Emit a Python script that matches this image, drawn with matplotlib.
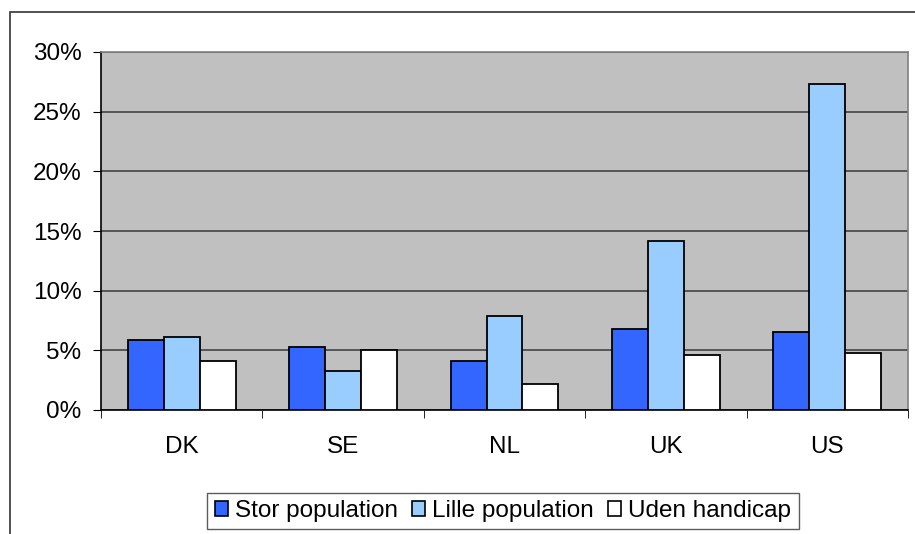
import numpy as np
import matplotlib.pyplot as plt
from matplotlib.patches import Patch, Rectangle
from matplotlib.ticker import FixedLocator, FuncFormatter

plt.rcParams['font.family'] = ['Liberation Sans', 'DejaVu Sans']

# Data (percent).
countries = ['DK', 'SE', 'NL', 'UK', 'US']
stor = [5.9, 5.3, 4.1, 6.8, 6.5]
lille = [6.1, 3.3, 7.9, 14.2, 27.3]
uden = [4.1, 5.0, 2.2, 4.6, 4.8]
series_names = ['Stor population', 'Lille population', 'Uden handicap']
colors = ['#3366FF', '#99CCFF', '#FFFFFF']

fs = 17.5

fig = plt.figure(figsize=(9.15, 5.34), dpi=100)
ax = fig.add_axes([101/915, 1-410/534, (908-101)/915, (410-52)/534])
ax.set_facecolor('#C0C0C0')

# Outer chart frame (only left and top visible in the reference).
fig.patches.append(Rectangle((10/915, -0.2), 1.2, (534-12)/534 + 0.2, transform=fig.transFigure,
                             fill=False, edgecolor='#333333', linewidth=1.2, zorder=0))

x = np.arange(len(countries))
w = 0.223
for i, (vals, c) in enumerate(zip([stor, lille, uden], colors)):
    ax.bar(x + (i-1)*w, vals, width=w, color=c, edgecolor='black', linewidth=1.3, zorder=3)

ax.set_xlim(-0.5, 4.5)
ax.set_ylim(0, 30)
ax.set_yticks(np.arange(0, 31, 5))
ax.yaxis.set_major_formatter(FuncFormatter(lambda v, p: '%d%%' % v))
ax.grid(axis='y', color='#444444', linewidth=1.2, zorder=0)
ax.set_axisbelow(True)

# category labels at centres, ticks at boundaries
ax.set_xticks(x)
ax.set_xticklabels(countries)
ax.tick_params(axis='x', which='major', length=0, pad=19, labelsize=fs)
ax.xaxis.set_minor_locator(FixedLocator(np.arange(-0.5, 5, 1)))
ax.tick_params(axis='x', which='minor', length=6, direction='out', color='black')
ax.tick_params(axis='y', length=6, direction='out', labelsize=fs, pad=8)

for s in ['top', 'right']:
    ax.spines[s].set_color('#808080')
    ax.spines[s].set_linewidth(1.2)
for s in ['left', 'bottom']:
    ax.spines[s].set_color('black')
    ax.spines[s].set_linewidth(1.2)

handles = [Patch(facecolor=c, edgecolor='black', linewidth=1.2) for c in colors]
leg = fig.legend(handles, series_names, loc='center', bbox_to_anchor=(503/915, 1-511/534),
                 ncol=3, fontsize=fs, frameon=True, fancybox=False, edgecolor='#333333',
                 handlelength=0.55, handleheight=0.55, handletextpad=0.3, columnspacing=0.55,
                 borderpad=0.3, borderaxespad=0)
leg.get_frame().set_linewidth(1.0)

fig.savefig('out.png', dpi=100)
